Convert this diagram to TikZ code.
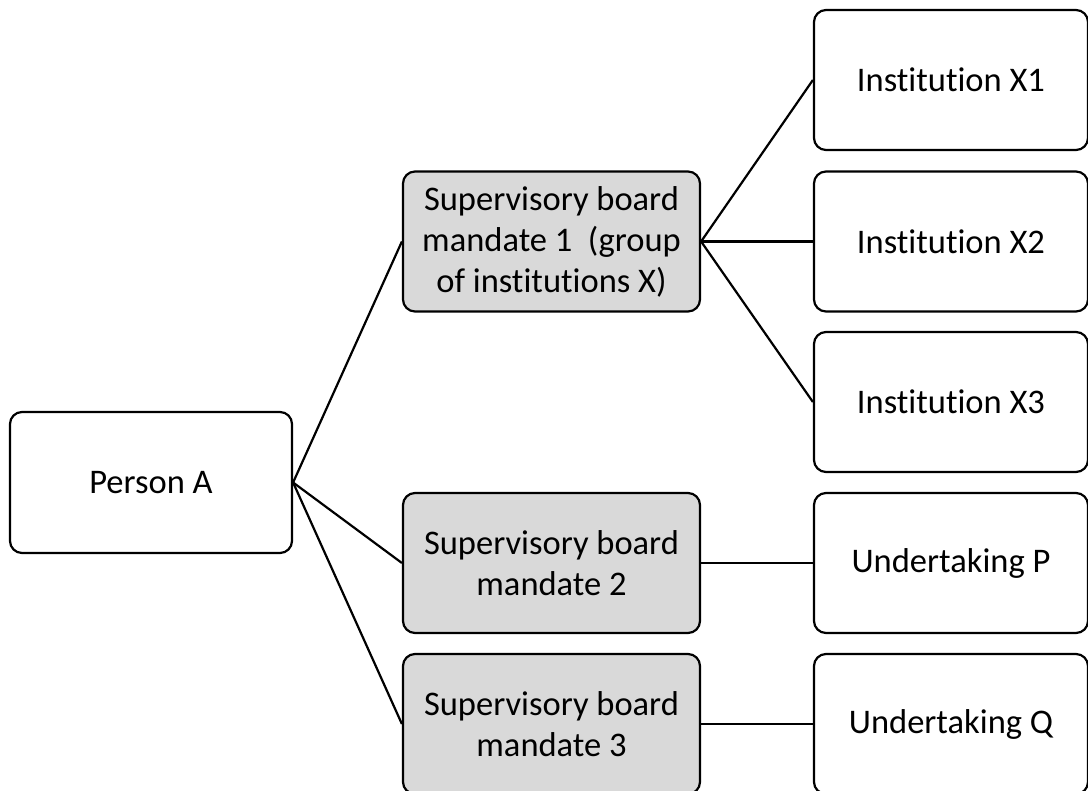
\documentclass[tikz,border=0pt]{standalone}
\usepackage{fontspec}
\setmainfont{Carlito}[Ligatures={NoCommon}]
\begin{document}
\begin{tikzpicture}[x=1pt,y=-1pt,
  box/.style={draw, line width=2.2pt, rounded corners=12pt, fill=white,
    inner sep=0pt, align=center, font=\fontsize{34.5}{41}\selectfont},
  person/.style={box, minimum width=282pt, minimum height=141pt},
  mandate/.style={box, fill=boxgray, minimum width=297pt, minimum height=140pt},
  target/.style={box, minimum width=274pt, minimum height=140pt},
  link/.style={line width=2.2pt}]
\definecolor{boxgray}{HTML}{D9D9D9}
\useasboundingbox (0,0) rectangle (1088,791);

% root
\node[person] (pa) at (151,482.5) {Person A};

% supervisory board mandates
\node[mandate] (m1) at (551.5,241.5) {Supervisory board\\mandate 1~~(group\\of institutions X)};
\node[mandate] (m2) at (551.5,563) {Supervisory board\\mandate 2};
\node[mandate] (m3) at (551.5,724) {Supervisory board\\mandate 3};

% institutions and undertakings
\node[target] (x1) at (951,80) {Institution X1};
\node[target] (x2) at (951,241.5) {Institution X2};
\node[target] (x3) at (951,402) {Institution X3};
\node[target] (up) at (951,563) {Undertaking P};
\node[target] (uq) at (951,724) {Undertaking Q};

% connectors
\draw[link] (pa.east) -- (m1.west);
\draw[link] (pa.east) -- (m2.west);
\draw[link] (pa.east) -- (m3.west);
\draw[link] (m1.east) -- (x1.west);
\draw[link] (m1.east) -- (x2.west);
\draw[link] (m1.east) -- (x3.west);
\draw[link] (m2.east) -- (up.west);
\draw[link] (m3.east) -- (uq.west);
\end{tikzpicture}
\end{document}
